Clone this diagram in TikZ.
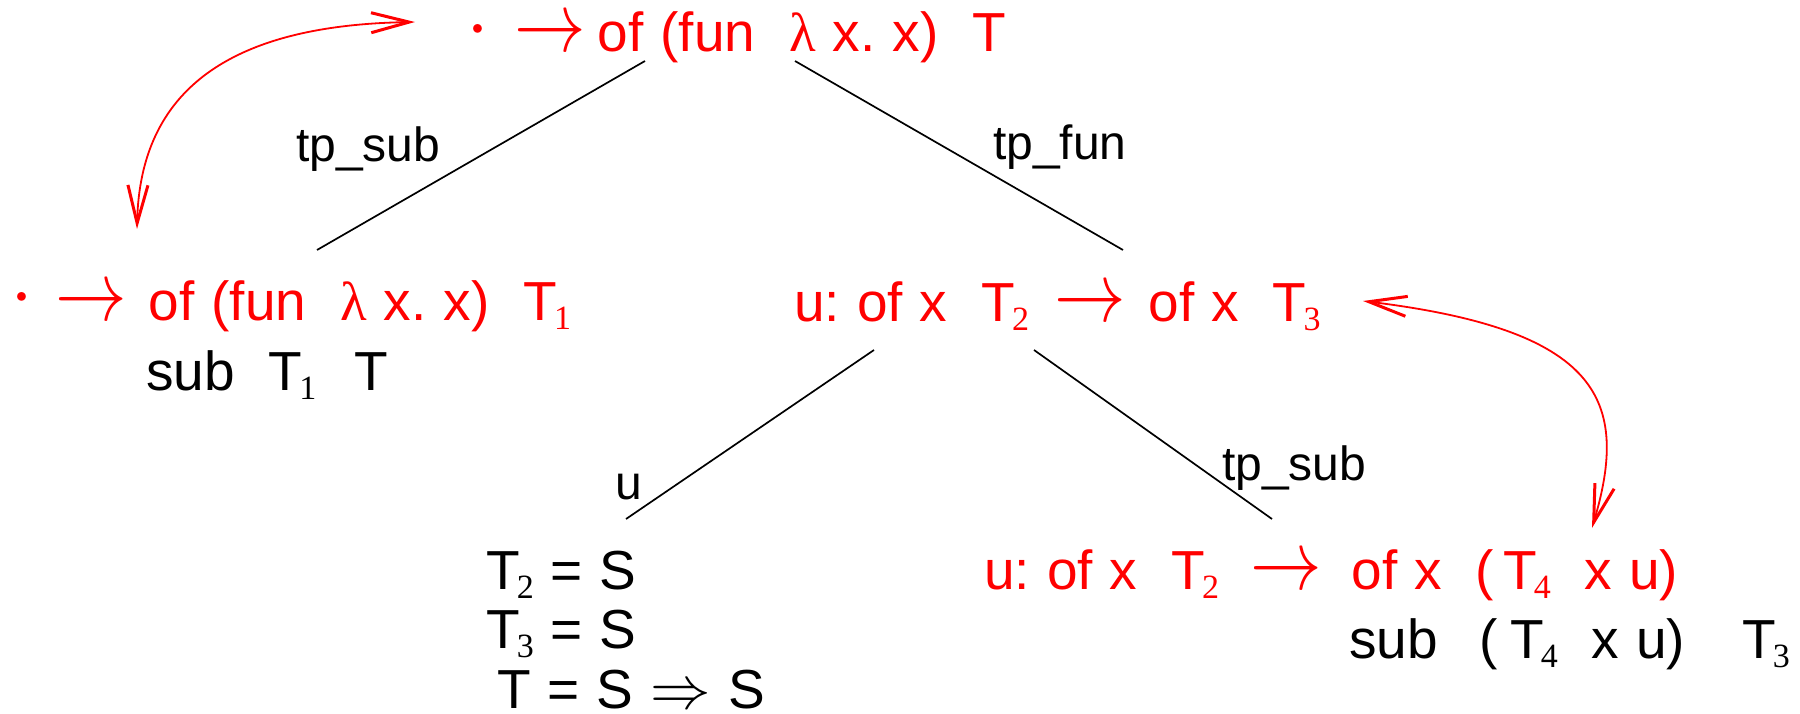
\documentclass[tikz,border=0pt]{standalone}
\usepackage{fix-cm}
\usepackage{fontspec}
\setmainfont{Liberation Sans}
\newfontfamily\serif{Liberation Serif}
\usepackage{graphicx}
\usetikzlibrary{arrows.meta}
\definecolor{tred}{RGB}{255,0,0}
\newcommand{\myarr}{\scalebox{1.3}[1.55]{$\rightarrow$}}
\newcommand{\mydbl}{\scalebox{1.1}[1.1]{$\Rightarrow$}}
\newcommand{\mydot}{\raisebox{2pt}{\scalebox{1.5}{$\cdot$}}}
\newcommand{\sbs}[1]{\kern-3pt\raisebox{-9pt}{\serif\fontsize{34}{34}\selectfont #1}}
\newcommand{\bigfont}{\fontsize{55}{60}\selectfont\frenchspacing\spaceskip 17pt\relax}
\newcommand{\lblfont}{\fontsize{48}{54}\selectfont\frenchspacing}
\tikzset{
  txt/.style={anchor=base west, inner sep=0pt, font=\bigfont},
  rtxt/.style={txt, text=tred},
  lbl/.style={anchor=base west, inner sep=0pt, font=\lblfont},
  edge/.style={line width=1.7pt},
  swap/.style={draw=tred, line width=1.8pt, {Straight Barb[length=38pt,width=20pt,line width=3pt]}-{Straight Barb[length=38pt,width=20pt,line width=3pt]}},
}
\begin{document}
\begin{tikzpicture}[x=1pt,y=-1pt]
\path[use as bounding box] (0,0) rectangle (1800,714);
% text nodes
\node[rtxt] (top) at (466,52) {\mydot\hspace{25pt}\myarr\hspace{12pt}of (fun\ \ {\serif λ} x. x)\ \ T};
\node[rtxt] (left) at (10,320) {\mydot\hspace{22pt}\myarr\hspace{22pt}of (fun\ \ {\serif λ} x. x)\ \ T\sbs{1}};
\node[txt] (leftsub) at (146,390) {sub\ \ T\sbs{1}\hspace{38pt}T};
\node[rtxt] (mid) at (794,321) {u: of x\ \ T\sbs{2}\hspace{25pt}\myarr\hspace{23pt}of x\ \ T\sbs{3}};
\node[txt] (eqa) at (486,589) {T\sbs{2} = S};
\node[txt] (eqb) at (486,648) {T\sbs{3} = S};
\node[txt] (eqc) at (497,708) {T = S \mydbl\ S};
\node[rtxt] (br) at (984,589) {u: of x\ \ T\sbs{2}\hspace{31pt}\myarr\hspace{30pt}of x\ \ (\hspace{9pt}T\sbs{4}\ \ x u)};
\node[txt] (brsub) at (1349,658) {sub\hspace{42pt}(\hspace{12pt}T\sbs{4}\ \ x u)\hspace{57pt}T\sbs{3}};
% labels
\node[lbl] (la) at (296,162) {tp\_sub};
\node[lbl] (lb) at (993,160) {tp\_fun};
\node[lbl] (lc) at (615,499) {u};
\node[lbl] (ld) at (1222,480) {tp\_sub};
% edge ends
\coordinate (a1) at (645,61);  \coordinate (a2) at (317,250);
\coordinate (b1) at (795,61);  \coordinate (b2) at (1123,250);
\coordinate (c1) at (874,350); \coordinate (c2) at (626,519);
\coordinate (d1) at (1034,350); \coordinate (d2) at (1272,519);
\draw[edge] (a1) -- (a2);
\draw[edge] (b1) -- (b2);
\draw[edge] (c1) -- (c2);
\draw[edge] (d1) -- (d2);
% curved double arrows
\coordinate (p1) at (137,229); \coordinate (p2) at (415,22);
\coordinate (q1) at (1363,301); \coordinate (q2) at (1592,528);
\draw[swap] (p1) .. controls (140,90) and (230,25) .. (p2);
\draw[swap] (q1) .. controls (1600,330) and (1630,400) .. (q2);
\end{tikzpicture}
\end{document}
